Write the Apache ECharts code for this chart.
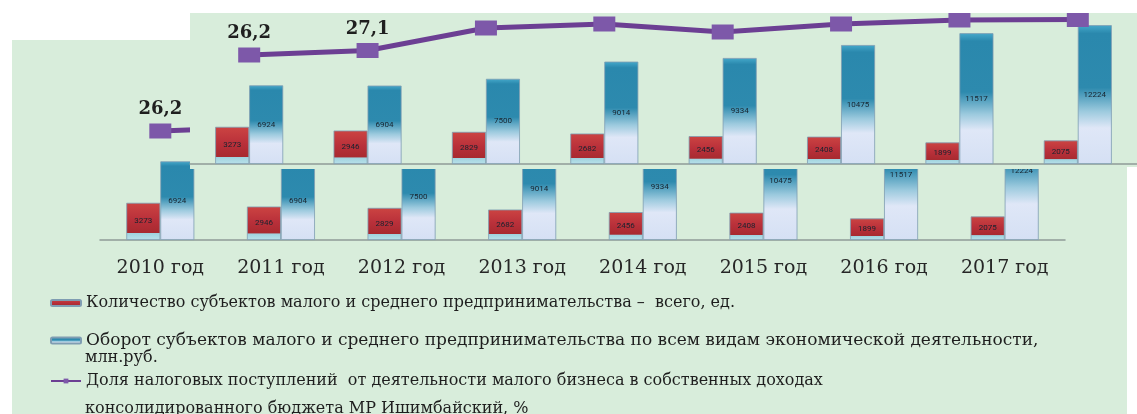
<!DOCTYPE html>
<html>
<head>
<meta charset="utf-8">
<title>Малое предпринимательство МР Ишимбайский</title>
<script src="https://cdn.jsdelivr.net/npm/echarts@6/dist/echarts.min.js"></script>
<style>
  html, body { margin: 0; padding: 0; background: #fff; }
  #main { width: 1137px; height: 414px; }
</style>
</head>
<body>
<div id="main"></div>
<script>
// данные
var years = ['2010 год', '2011 год', '2012 год', '2013 год', '2014 год', '2015 год', '2016 год', '2017 год'];
var firmCount = [3273, 2946, 2829, 2682, 2456, 2408, 1899, 2075];
var turnover = [6924, 6904, 7500, 9014, 9334, 10475, 11517, 12224];
var taxShare = [26.2, 27.1, 31.6, 32.4, 30.8, 32.4, 33.2, 33.3];

var nameA = 'Количество субъектов малого и среднего предпринимательства – всего, ед.';
var nameB = 'Оборот субъектов малого и среднего предпринимательства по всем видам экономической деятельности, млн.руб.';
var nameC = 'Доля налоговых поступлений  от деятельности малого бизнеса в собственных доходах консолидированного бюджета МР Ишимбайский, %';
var legendFirst = {};
legendFirst[nameA] = 'Количество субъектов малого и среднего предпринимательства –  всего, ед.';
legendFirst[nameB] = 'Оборот субъектов малого и среднего предпринимательства по всем видам экономической деятельности,';
legendFirst[nameC] = 'Доля налоговых поступлений  от деятельности малого бизнеса в собственных доходах';

var green = '#d8eddb';
var serif = '"DejaVu Serif", "Liberation Serif", serif';

function comma(v) { return String(v).replace('.', ','); }

var redFill = new echarts.graphic.LinearGradient(0, 0, 0, 1, [
    { offset: 0, color: '#cc4442' },
    { offset: 0.45, color: '#b9303a' },
    { offset: 0.8, color: '#a82a30' },
    { offset: 0.81, color: '#9fd2de' },
    { offset: 1, color: '#b9e1ea' }
]);
var blueFill = new echarts.graphic.LinearGradient(0, 0, 0, 1, [
    { offset: 0, color: '#45a9cb' },
    { offset: 0.06, color: '#2a88ad' },
    { offset: 0.45, color: '#2d8aae' },
    { offset: 0.62, color: '#9ccade' },
    { offset: 0.74, color: '#dfe7f7' },
    { offset: 1, color: '#d5e0f4' }
]);

function bars(name, data, fill, xi, yi, z) {
    return {
        name: name,
        type: 'bar',
        xAxisIndex: xi,
        yAxisIndex: yi,
        z: z,
        barWidth: 34,
        barGap: '0%',
        data: data,
        itemStyle: { color: fill, borderColor: '#7f9db2', borderWidth: 0.8 },
        label: {
            show: true,
            position: 'inside',
            fontSize: 8,
            fontFamily: 'Roboto',
            color: '#17232e'
        }
    };
}

function line(data, xi, yi, z, nLabels) {
    return {
        name: nameC,
        type: 'line',
        xAxisIndex: xi,
        yAxisIndex: yi,
        z: z,
        data: data,
        symbol: 'rect',
        symbolSize: [22, 15],
        lineStyle: { color: '#6c3f93', width: 5 },
        itemStyle: { color: '#7d58a9' },
        label: {
            show: true,
            position: 'top',
            distance: 5,
            fontFamily: serif,
            fontWeight: 'bold',
            fontSize: 18,
            color: '#1f1f1f',
            formatter: function (p) { return p.dataIndex < nLabels ? comma(p.value) : ''; }
        }
    };
}

function legendRow(name, top, size) {
    return {
        data: [name],
        left: 50,
        top: top,
        padding: 0,
        itemWidth: 30,
        itemHeight: 6,
        selectedMode: false,
        formatter: function (n) { return legendFirst[n]; },
        textStyle: { fontFamily: serif, fontSize: size, color: '#1e1e1e' }
    };
}

var axisLine = { lineStyle: { color: '#8e9b98', width: 1.5 } };

var myChart = echarts.init(document.getElementById('main'));
var option = {
    backgroundColor: green,
    animation: false,
    legend: [
        legendRow(nameA, 295, 16),
        legendRow(nameB, 332, 17),
        legendRow(nameC, 373, 16)
    ],
    grid: [
        { left: 190, right: -13, top: 5, bottom: 250 },
        { left: 100, right: 72, top: 81, bottom: 174 }
    ],
    xAxis: [
        {
            gridIndex: 0, type: 'category', data: years, z: 8,
            axisLine: axisLine,
            axisTick: { inside: true, length: 6, lineStyle: { color: '#8e9b98' } },
            axisLabel: { show: false }
        },
        {
            gridIndex: 1, type: 'category', data: years,
            axisLine: axisLine,
            axisTick: { length: 5, lineStyle: { color: '#8e9b98' } },
            axisLabel: { fontFamily: serif, fontSize: 19, color: '#262626', margin: 19 }
        }
    ],
    yAxis: [
        { gridIndex: 0, type: 'value', min: 0, max: 14000, show: false },
        { gridIndex: 0, type: 'value', min: 4.4, max: 36.2, show: false },
        { gridIndex: 1, type: 'value', min: 0, max: 14000, show: false },
        { gridIndex: 1, type: 'value', min: 4.4, max: 36.2, show: false }
    ],
    series: [
        // верхний слой
        bars(nameA, firmCount, redFill, 0, 0, 10),
        bars(nameB, turnover, blueFill, 0, 0, 10),
        line(taxShare, 0, 1, 12, 2),
        // нижний слой
        bars(nameA, firmCount, redFill, 1, 2, 1),
        bars(nameB, turnover, blueFill, 1, 2, 1),
        line(taxShare, 1, 3, 2, 1)
    ],
    graphic: [
        // верхний слой закрывает нижний
        { type: 'rect', z: 5, shape: { x: 190, y: 13, width: 947, height: 156 }, style: { fill: green } },
        // белые поля
        { type: 'rect', z: 100, shape: { x: 0, y: 0, width: 1137, height: 13 }, style: { fill: '#fff' } },
        { type: 'rect', z: 100, shape: { x: 0, y: 13, width: 190, height: 27 }, style: { fill: '#fff' } },
        { type: 'rect', z: 100, shape: { x: 0, y: 40, width: 12, height: 374 }, style: { fill: '#fff' } },
        { type: 'rect', z: 100, shape: { x: 1127, y: 167, width: 10, height: 247 }, style: { fill: '#fff' } },
        // продолжение подписей легенды
        { type: 'text', z: 20, x: 85, y: 358, style: { text: 'млн.руб.', fontFamily: serif, fontSize: 16, fill: '#1e1e1e', verticalAlign: 'middle' } },
        { type: 'text', z: 20, x: 85, y: 409, style: { text: 'консолидированного бюджета МР Ишимбайский, %', fontFamily: serif, fontSize: 16, fill: '#1e1e1e', verticalAlign: 'middle' } }
    ]
};
myChart.setOption(option);
</script>
</body>
</html>
